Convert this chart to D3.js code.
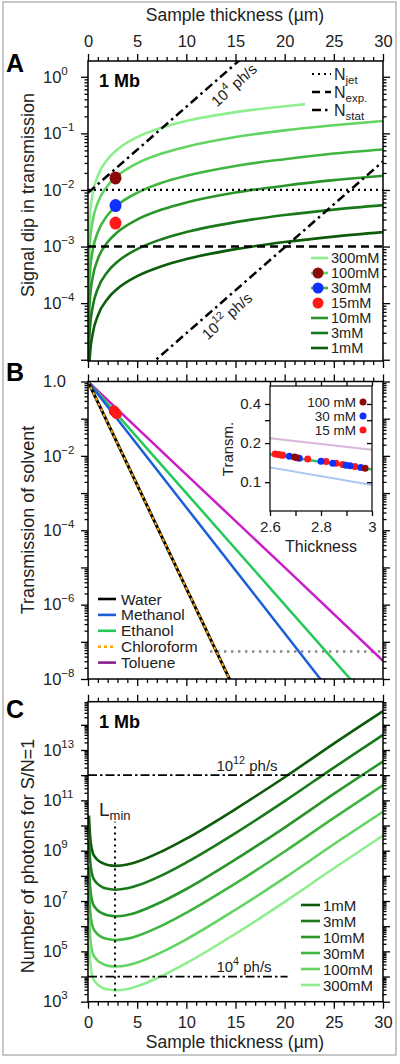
<!DOCTYPE html>
<html><head><meta charset="utf-8">
<script src="https://cdn.jsdelivr.net/npm/d3@7"></script>
<style>body{margin:0;background:#fff}svg{display:block}</style>
</head><body><script>
// ---------------- DATA ----------------
// Panel A: signal dip vs thickness
const thicknessA = [0.0002, 0.02, 0.05, 0.1, 0.2, 0.5, 1, 2, 3, 5, 7.5, 10, 15, 20, 25, 30];
const dip1mM   = [1.2e-8, 1.2e-6, 3e-6, 6e-6, 1.2e-5, 3e-5, 6e-5, 1.2e-4, 1.8e-4, 3e-4, 4.5e-4, 6e-4, 9e-4, 1.2e-3, 1.5e-3, 1.8e-3];
const dip3mM   = [3.6e-8, 3.6e-6, 9e-6, 1.8e-5, 3.6e-5, 9e-5, 1.8e-4, 3.6e-4, 5.4e-4, 9e-4, 1.35e-3, 1.8e-3, 2.7e-3, 3.6e-3, 4.5e-3, 5.4e-3];
const dip10mM  = [1.2e-7, 1.2e-5, 3e-5, 6e-5, 1.2e-4, 3e-4, 6e-4, 1.2e-3, 1.8e-3, 3e-3, 4.5e-3, 6e-3, 9e-3, 1.19e-2, 1.49e-2, 1.78e-2];
const dip30mM  = [3.6e-7, 3.6e-5, 9e-5, 1.8e-4, 3.6e-4, 9e-4, 1.8e-3, 3.6e-3, 5.4e-3, 8.9e-3, 1.34e-2, 1.78e-2, 2.66e-2, 3.5e-2, 4.4e-2, 5.2e-2];
const dip100mM = [1.2e-6, 1.2e-4, 3e-4, 6e-4, 1.2e-3, 3e-3, 6e-3, 1.19e-2, 1.78e-2, 2.96e-2, 4.4e-2, 5.8e-2, 8.6e-2, 0.113, 0.139, 0.165];
const dip300mM = [3.6e-6, 3.6e-4, 9e-4, 1.8e-3, 3.6e-3, 9e-3, 1.78e-2, 3.5e-2, 5.2e-2, 8.6e-2, 0.126, 0.165, 0.237, 0.302, 0.362, 0.417];
const nstatThick = [0, 30];
const nstat1e4  = [0.0089, 324];
const nstat1e12 = [8.9e-7, 0.032];
const nJet = 0.01, nExp = 0.001;
const expLabels = ["100mM", "30mM", "15mM"];
const expThick = [2.8, 2.8, 2.8];
const expDip = [0.0163, 0.0053, 0.0026];
const concLabels = ["300mM", "100mM", "30mM", "10mM", "3mM", "1mM"];

// Panel B: solvent transmission
const solventNames = ["Water", "Methanol", "Ethanol", "Chloroform", "Toluene"];
const solventThick = [0, 10, 20, 30];
const transWater    = [1, 2.75e-6, 7.6e-12, 2.1e-17];
const transMethanol = [1, 4.1e-4, 1.7e-7, 6.9e-11];
const transEthanol  = [1, 1e-3, 1e-6, 1e-9];
const transToluene  = [1, 3.14e-3, 1e-5, 3.1e-8];
const grayThick = [12.4, 30];
const grayLevel = 5.5e-8;
// inset measurements
const inset100Thick = [2.696, 2.705, 2.973];
const inset100Trans = [0.156, 0.154, 0.128];
const inset30Thick = [2.676, 2.715, 2.80, 2.846, 2.898, 2.914, 2.956];
const inset30Trans = [0.158, 0.153, 0.145, 0.140, 0.135, 0.134, 0.130];
const inset15Thick = [2.62, 2.633, 2.642, 2.65, 2.748, 2.82, 2.859, 2.885, 2.933];
const inset15Trans = [0.165, 0.163, 0.162, 0.161, 0.151, 0.144, 0.140, 0.137, 0.132];
const insetLineThick = [2.6, 3.0];
const insetToluene  = [0.218, 0.178];
const insetEthanol  = [0.164, 0.125];
const insetMethanol = [0.130, 0.095];

// Panel C: photons needed for S/N = 1
const thicknessC = [0.1, 0.2, 0.3, 0.5, 0.75, 1, 1.5, 2, 2.8, 4, 5, 7.5, 10, 15, 20, 25, 30];
const photons1mM   = [2.5e10, 4.5e9, 1.8e9, 7.9e8, 5.4e8, 4.2e8, 3.2e8, 2.7e8, 2.5e8, 2.8e8, 3.6e8, 9.3e8, 3.0e9, 4.5e10, 8.3e11, 1.8e13, 3.5e14];
const photons3mM   = [2.8e9, 5.0e8, 2.0e8, 8.9e7, 6.0e7, 4.7e7, 3.5e7, 3.1e7, 2.8e7, 3.2e7, 4.1e7, 1.05e8, 3.4e8, 5.0e9, 9.3e10, 2.0e12, 4.0e13];
const photons10mM  = [2.5e8, 4.5e7, 1.8e7, 7.9e6, 5.4e6, 4.2e6, 3.2e6, 2.7e6, 2.5e6, 2.8e6, 3.6e6, 9.3e6, 3.0e7, 4.5e8, 8.3e9, 1.8e11, 3.5e12];
const photons30mM  = [2.8e7, 5.0e6, 2.0e6, 8.9e5, 6.0e5, 4.7e5, 3.5e5, 3.1e5, 2.8e5, 3.2e5, 4.1e5, 1.05e6, 3.4e6, 5.0e7, 9.3e8, 2.0e10, 4.0e11];
const photons100mM = [2.5e6, 4.5e5, 1.8e5, 7.9e4, 5.4e4, 4.2e4, 3.2e4, 2.7e4, 2.5e4, 2.8e4, 3.6e4, 9.3e4, 3.0e5, 4.5e6, 8.3e7, 1.8e9, 3.5e10];
const photons300mM = [2.8e5, 5.0e4, 2.0e4, 8.9e3, 6.0e3, 4.7e3, 3.5e3, 3.1e3, 2.8e3, 3.2e3, 4.1e3, 1.05e4, 3.4e4, 5.0e5, 9.3e6, 2.0e8, 4.0e9];
const legendC = ["1mM", "3mM", "10mM", "30mM", "100mM", "300mM"];
const fluxLow = 1e4, fluxHigh = 1e12;
const fluxLowThick = [0, 20.3];
const lMin = 2.75;
const lMinRange = [1.6e3, 1.4e10];

// ---------------- STYLE / SCALES ----------------
const FONT = '"Liberation Sans", Arial, Helvetica, sans-serif';
const col = {"300mM":"#8fee8f","100mM":"#62d462","30mM":"#40b540","10mM":"#2a962a","3mM":"#1a7a1a","1mM":"#0c5c0c"};
const expCol = {"100mM":"#8b0a0a","30mM":"#1030ff","15mM":"#ff1a1a"};
const solvCol = {Water:"#000", Methanol:"#1a5fd6", Ethanol:"#25c95a", Chloroform:"#ffa500", Toluene:"#c81fc8"};

const svg = d3.select("body").append("svg").attr("width",400).attr("height",1064)
  .style("font-family", FONT);
const defs = svg.append("defs");

const x = d3.scaleLinear().domain([0,30]).range([88,383]);
const yA = d3.scaleLog().domain([9.5e-6,1.9]).range([361,61]);
const yB = d3.scaleLog().domain([1e-8,1]).range([679,381.5]);
const yC = d3.scaleLog().domain([1e3,8.3e14]).range([1001.7,701.7]);

// outer border
svg.append("rect").attr("x",3).attr("y",2).attr("width",393).attr("height",1053)
  .attr("fill","none").attr("stroke","#b5b5b5").attr("stroke-width",1.5);

function decades(lo, hi){ const a=[]; for(let e=Math.ceil(Math.log10(lo)-1e-9); e<=Math.floor(Math.log10(hi)+1e-9); e++) a.push(Math.pow(10,e)); return a; }
function minors(lo, hi){ const a=[]; for(let e=Math.floor(Math.log10(lo)); e<=Math.ceil(Math.log10(hi)); e++) for(let k=2;k<10;k++){ const v=k*Math.pow(10,e); if(v>=lo && v<=hi) a.push(v);} return a; }

function axisG(axis, tx, ty){
  const g = svg.append("g").attr("transform",`translate(${tx},${ty})`).call(axis);
  g.select(".domain").remove();
  g.selectAll("line").attr("stroke","#000").attr("stroke-width",1.3);
  g.attr("font-family",FONT);
  return g;
}

function panel(ys, opts){
  const [bot, top] = ys.range();
  const [lo, hi] = ys.domain();
  const xMaj = d3.range(0,31,5), xMin = d3.range(0,31).filter(v=>v%5);
  const tTop = axisG(d3.axisTop(x).tickValues(xMaj).tickSize(7).tickPadding(7).tickFormat(opts.topLabels? d3.format("d") : ""), 0, top);
  axisG(d3.axisTop(x).tickValues(xMin).tickSize(4).tickFormat(""), 0, top);
  const tBot = axisG(d3.axisBottom(x).tickValues(xMaj).tickSize(7).tickPadding(7.5).tickFormat(opts.bottomLabels? d3.format("d") : ""), 0, bot);
  axisG(d3.axisBottom(x).tickValues(xMin).tickSize(4).tickFormat(""), 0, bot);
  [tTop,tBot].forEach(g=>g.selectAll("text").attr("font-size","16.5px").attr("fill","#222"));
  const maj = decades(lo,hi), mn = minors(lo,hi);
  const yl = axisG(d3.axisLeft(ys).tickValues(opts.labelVals).tickSize(7).tickFormat(d=>d), 88, 0);
  axisG(d3.axisLeft(ys).tickValues(maj.filter(v=>!opts.labelVals.includes(v))).tickSize(7).tickFormat(""), 88, 0);
  axisG(d3.axisLeft(ys).tickValues(mn).tickSize(3.5).tickFormat(""), 88, 0);
  axisG(d3.axisRight(ys).tickValues(maj).tickSize(7).tickFormat(""), 383, 0);
  axisG(d3.axisRight(ys).tickValues(mn).tickSize(3.5).tickFormat(""), 383, 0);
  yl.selectAll("text").each(function(d){
    const t = d3.select(this); t.text(null);
    t.attr("text-anchor","start").attr("x",-45).attr("font-size","16.5px").attr("fill","#222");
    const lab = opts.fmt(d);
    t.append("tspan").text(lab[0]);
    if(lab[1]) t.append("tspan").attr("dy",-8).attr("font-size","11.5px").text(lab[1]);
  });
  svg.append("rect").attr("x",88).attr("y",top).attr("width",295).attr("height",bot-top)
    .attr("fill","none").attr("stroke","#000").attr("stroke-width",1.5);
  defs.append("clipPath").attr("id",opts.id).append("rect").attr("x",88).attr("y",top).attr("width",295).attr("height",bot-top);
}
const supFmt = d => { const e = Math.round(Math.log10(d)); return ["10", e<0 ? "\u2212"+(-e) : String(e)]; };

// ---------------- PANEL A ----------------
const gA = svg.append("g").attr("clip-path","url(#clipA)");
panel(yA, {id:"clipA", topLabels:true, labelVals:[1,0.1,0.01,0.001,0.0001], fmt:supFmt});
const dipSeries = {"300mM":dip300mM,"100mM":dip100mM,"30mM":dip30mM,"10mM":dip10mM,"3mM":dip3mM,"1mM":dip1mM};
const lineA = d3.line().x((d,i)=>x(thicknessA[i])).y(d=>yA(d)).curve(d3.curveMonotoneX);
concLabels.forEach(k=>{
  gA.append("path").attr("d",lineA(dipSeries[k])).attr("fill","none").attr("stroke",col[k]).attr("stroke-width",2.6);
});
gA.append("line").attr("x1",x(0)).attr("x2",x(30)).attr("y1",yA(nJet)).attr("y2",yA(nJet))
  .attr("stroke","#000").attr("stroke-width",2.2).attr("stroke-dasharray","2,4");
gA.append("line").attr("x1",x(0)).attr("x2",x(30)).attr("y1",yA(nExp)).attr("y2",yA(nExp))
  .attr("stroke","#000").attr("stroke-width",2.5).attr("stroke-dasharray","8,5");
const lineNs = d3.line().x((d,i)=>x(nstatThick[i])).y(d=>yA(d));
[nstat1e4, nstat1e12].forEach(s=>{
  gA.append("path").attr("d",lineNs(s)).attr("fill","none").attr("stroke","#000")
    .attr("stroke-width",2.5).attr("stroke-dasharray","9,4,2.5,4");
});
expLabels.forEach((k,i)=>{
  gA.append("ellipse").attr("cx",x(expThick[i])).attr("cy",yA(expDip[i])).attr("rx",6).attr("ry",6.5).attr("fill",expCol[k]);
});
function fluxLabel(g, cx, cy, ang, exp, fs){
  const t = g.append("text").attr("transform",`translate(${cx},${cy}) rotate(${ang})`)
    .attr("text-anchor","middle").attr("dy","0.35em").attr("font-size",fs+"px").attr("fill","#222");
  t.append("tspan").text("10");
  t.append("tspan").attr("dy",-7).attr("font-size",(fs*0.72)+"px").text(exp);
  t.append("tspan").attr("dy",7).text(" ph/s");
}
fluxLabel(svg, 234, 85, -42, "4", 15);
fluxLabel(svg, 227, 316, -42, "12", 15);
svg.append("rect").attr("x",305).attr("y",63).attr("width",77).attr("height",55).attr("fill","#fff");
[["jet","2,4",2.2,74],["exp.","8,5",2.5,92],["stat","9,4,2.5,4",2.5,110]].forEach(r=>{
  svg.append("line").attr("x1",312).attr("x2",331).attr("y1",r[3]).attr("y2",r[3]).attr("stroke","#000")
    .attr("stroke-width",r[2]).attr("stroke-dasharray",r[1]);
  const t = svg.append("text").attr("x",334).attr("y",r[3]+5.5).attr("font-size","16px").attr("fill","#222");
  t.append("tspan").text("N");
  t.append("tspan").attr("dy",4).attr("font-size","11.5px").text(r[0]);
});
svg.append("text").attr("x",99).attr("y",87).attr("font-size","18px").attr("font-weight","bold").text("1 Mb");
const legA = [["300mM",true,null],["100mM",true,"100mM"],["30mM",true,"30mM"],["15mM",false,"15mM"],["10mM",true,null],["3mM",true,null],["1mM",true,null]];
legA.forEach((r,i)=>{
  const yy = 258 + i*15;
  if(r[1]) svg.append("line").attr("x1",311).attr("x2",328).attr("y1",yy).attr("y2",yy).attr("stroke",col[r[0]]).attr("stroke-width",2.6);
  if(r[2]) svg.append("circle").attr("cx",318).attr("cy",yy).attr("r",5.5).attr("fill",expCol[r[2]]);
  svg.append("text").attr("x",331).attr("y",yy+5).attr("font-size","14.5px").attr("fill","#222").text(r[0]);
});

// ---------------- PANEL B ----------------
const gB = svg.append("g").attr("clip-path","url(#clipB)");
panel(yB, {id:"clipB", labelVals:[1,1e-2,1e-4,1e-6,1e-8], fmt:d=> d===1 ? ["1.0",null] : supFmt(d)});
const lineB = d3.line().x((d,i)=>x(solventThick[i])).y(d=>yB(d));
gB.append("line").attr("x1",x(grayThick[0])).attr("x2",x(grayThick[1])).attr("y1",yB(grayLevel)).attr("y2",yB(grayLevel))
  .attr("stroke","#8a8a8a").attr("stroke-width",2.5).attr("stroke-dasharray","2.5,4.5");
gB.append("path").attr("d",lineB(transToluene)).attr("fill","none").attr("stroke",solvCol.Toluene).attr("stroke-width",2.5);
gB.append("path").attr("d",lineB(transEthanol)).attr("fill","none").attr("stroke",solvCol.Ethanol).attr("stroke-width",2.5);
gB.append("path").attr("d",lineB(transMethanol)).attr("fill","none").attr("stroke",solvCol.Methanol).attr("stroke-width",2.5);
gB.append("path").attr("d",lineB(transWater)).attr("fill","none").attr("stroke",solvCol.Water).attr("stroke-width",3);
gB.append("path").attr("d",lineB(transWater)).attr("fill","none").attr("stroke",solvCol.Chloroform).attr("stroke-width",2).attr("stroke-dasharray","3,3");
inset15Thick.forEach((t,i)=>{
  gB.append("circle").attr("cx",x(t)).attr("cy",yB(inset15Trans[i])).attr("r",5).attr("fill",expCol["15mM"]);
});
solventNames.forEach((n,i)=>{
  const yy = 599 + i*15.9;
  const l = svg.append("line").attr("x1",98).attr("x2",116).attr("y1",yy).attr("y2",yy).attr("stroke-width",2.6)
    .attr("stroke", n==="Toluene" ? "#8a1f8a" : solvCol[n]);
  if(n==="Chloroform") l.attr("stroke-dasharray","3,3");
  svg.append("text").attr("x",121).attr("y",yy+5.5).attr("font-size","15.5px").attr("fill","#222").text(n);
});
// inset
const xi = d3.scaleLinear().domain([2.6,3.0]).range([270,372]);
const yi = d3.scaleLog().domain([0.06,0.55]).range([511,386]);
svg.append("rect").attr("x",270).attr("y",386).attr("width",102).attr("height",125).attr("fill","#fff");
const li = d3.line().x((d,i)=>xi(insetLineThick[i])).y(d=>yi(d));
svg.append("path").attr("d",li(insetToluene)).attr("stroke","#d9b6dc").attr("stroke-width",2).attr("fill","none");
svg.append("path").attr("d",li(insetMethanol)).attr("stroke","#aac6ee").attr("stroke-width",2).attr("fill","none");
svg.append("path").attr("d",li(insetEthanol)).attr("stroke","#25c95a").attr("stroke-width",2.5).attr("fill","none");
[[inset15Thick,inset15Trans,"15mM"],[inset30Thick,inset30Trans,"30mM"],[inset100Thick,inset100Trans,"100mM"]].forEach(s=>{
  s[0].forEach((t,i)=> svg.append("circle").attr("cx",xi(t)).attr("cy",yi(s[1][i])).attr("r",3.5).attr("fill",expCol[s[2]]));
});
const ib = axisG(d3.axisBottom(xi).tickValues([2.6,2.8,3.0]).tickSize(5).tickPadding(5).tickFormat(d=> Math.abs(d-3)<1e-9 ? "3" : d.toFixed(1)), 0, 511);
axisG(d3.axisBottom(xi).tickValues([2.7,2.9]).tickSize(5).tickFormat(""), 0, 511);
axisG(d3.axisTop(xi).tickValues([2.6,2.7,2.8,2.9,3.0]).tickSize(5).tickFormat(""), 0, 386);
const il = axisG(d3.axisLeft(yi).tickValues([0.1,0.2,0.4]).tickSize(5).tickPadding(4).tickFormat(d3.format(".1f")), 270, 0);
axisG(d3.axisLeft(yi).tickValues([0.3]).tickSize(5).tickFormat(""), 270, 0);
axisG(d3.axisRight(yi).tickValues([0.1,0.2,0.3,0.4]).tickSize(-5).tickFormat(""), 372, 0);
[ib,il].forEach(g=>g.selectAll("text").attr("font-size","15px").attr("fill","#222"));
svg.append("rect").attr("x",270).attr("y",386).attr("width",102).attr("height",125).attr("fill","none").attr("stroke","#000").attr("stroke-width",1.2);
svg.append("text").attr("x",321).attr("y",552).attr("text-anchor","middle").attr("font-size","16px").attr("fill","#222").text("Thickness");
svg.append("text").attr("transform","translate(233,449) rotate(-90)").attr("text-anchor","middle").attr("font-size","15px").attr("fill","#222").text("Transm.");
[["100 mM","100mM"],["30 mM","30mM"],["15 mM","15mM"]].forEach((r,i)=>{
  const yy = 402 + i*14;
  svg.append("text").attr("x",356).attr("y",yy+4.5).attr("text-anchor","end").attr("font-size","13.5px").attr("fill","#222").text(r[0]);
  svg.append("circle").attr("cx",363).attr("cy",yy).attr("r",3.5).attr("fill",expCol[r[1]]);
});

// ---------------- PANEL C ----------------
const gC = svg.append("g").attr("clip-path","url(#clipC)");
panel(yC, {id:"clipC", bottomLabels:true, labelVals:[1e3,1e5,1e7,1e9,1e11,1e13], fmt:supFmt});
const photonSeries = {"1mM":photons1mM,"3mM":photons3mM,"10mM":photons10mM,"30mM":photons30mM,"100mM":photons100mM,"300mM":photons300mM};
const lineC = d3.line().x((d,i)=>x(thicknessC[i])).y(d=>yC(d)).curve(d3.curveMonotoneX);
legendC.forEach(k=>{
  gC.append("path").attr("d",lineC(photonSeries[k])).attr("fill","none").attr("stroke",col[k]).attr("stroke-width",2.6);
});
gC.append("line").attr("x1",x(0)).attr("x2",x(30)).attr("y1",yC(fluxHigh)).attr("y2",yC(fluxHigh))
  .attr("stroke","#000").attr("stroke-width",1.8).attr("stroke-dasharray","9,3,2.5,3");
gC.append("line").attr("x1",x(fluxLowThick[0])).attr("x2",x(fluxLowThick[1])).attr("y1",yC(fluxLow)).attr("y2",yC(fluxLow))
  .attr("stroke","#000").attr("stroke-width",1.8).attr("stroke-dasharray","9,3,2.5,3");
gC.append("line").attr("x1",x(lMin)).attr("x2",x(lMin)).attr("y1",yC(lMinRange[0])).attr("y2",yC(lMinRange[1]))
  .attr("stroke","#000").attr("stroke-width",2).attr("stroke-dasharray","2,4");
function hLabel(cx, by, exp){
  const t = svg.append("text").attr("x",cx).attr("y",by).attr("text-anchor","middle").attr("font-size","15px").attr("fill","#222");
  t.append("tspan").text("10");
  t.append("tspan").attr("dy",-7).attr("font-size","10.8px").text(exp);
  t.append("tspan").attr("dy",7).text(" ph/s");
}
hLabel(247, 771, "12");
hLabel(244, 972, "4");
const lm = svg.append("text").attr("x",99).attr("y",816).attr("font-size","19px").attr("fill","#222");
lm.append("tspan").text("L");
lm.append("tspan").attr("dy",4).attr("font-size","13px").text("min");
svg.append("text").attr("x",99).attr("y",727.7).attr("font-size","18px").attr("font-weight","bold").text("1 Mb");
legendC.forEach((k,i)=>{
  const yy = 905 + i*16;
  svg.append("line").attr("x1",301).attr("x2",320).attr("y1",yy).attr("y2",yy).attr("stroke",col[k]).attr("stroke-width",2.6);
  svg.append("text").attr("x",323).attr("y",yy+5.5).attr("font-size","15px").attr("fill","#222").text(k);
});

// ---------------- TITLES ----------------
svg.append("text").attr("x",235).attr("y",21).attr("text-anchor","middle").attr("font-size","17.5px").attr("fill","#222").text("Sample thickness (\u00b5m)");
svg.append("text").attr("x",235).attr("y",1048).attr("text-anchor","middle").attr("font-size","17.5px").attr("fill","#222").text("Sample thickness (\u00b5m)");
[["Signal dip in transmission",195],["Transmission of solvent",520],["Number of photons for S/N=1",856]].forEach(r=>{
  svg.append("text").attr("transform",`translate(34,${r[1]}) rotate(-90)`).attr("text-anchor","middle")
    .attr("font-size","18px").attr("fill","#222").text(r[0]);
});
[["A",72],["B",381],["C",718]].forEach(r=>{
  svg.append("text").attr("x",6).attr("y",r[1]).attr("font-size","25px").attr("font-weight","bold").text(r[0]);
});
</script></body></html>
